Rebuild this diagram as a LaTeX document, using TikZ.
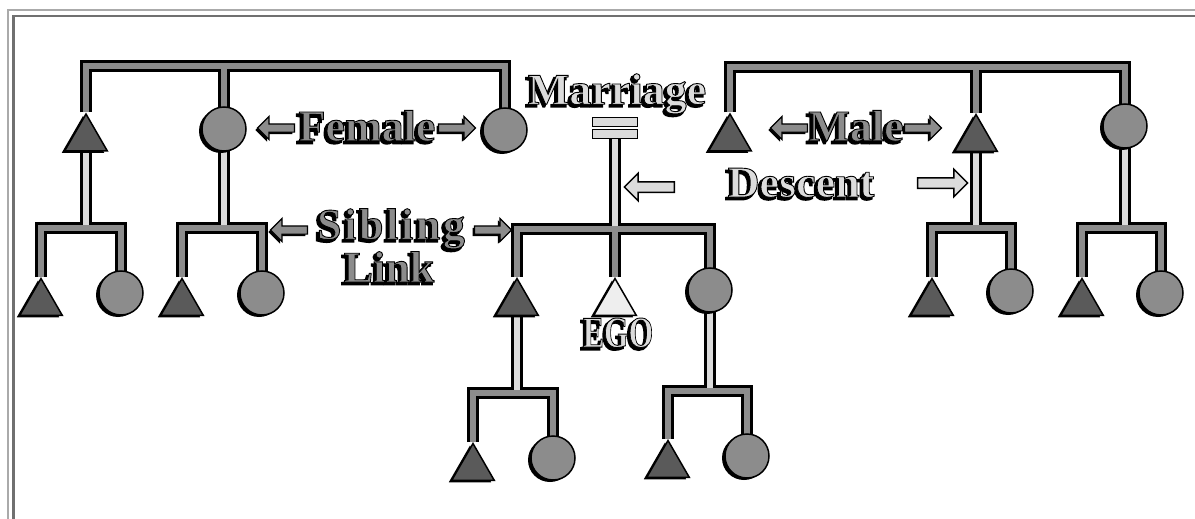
\documentclass[tikz,border=0pt]{standalone}
\usepackage{fontspec}
\setmainfont{Liberation Serif}
\usetikzlibrary{shapes.geometric,shapes.arrows,shadows}
\definecolor{kgmid}{HTML}{8C8C8C}
\definecolor{kgdark}{HTML}{5A5A5A}
\definecolor{kglight}{HTML}{DCDCDC}
\definecolor{kgegofill}{HTML}{EEEEEE}
\definecolor{kgframeA}{HTML}{AAAAAA}
\definecolor{kgframeB}{HTML}{707070}
\pgfdeclarelayer{tout}
\pgfdeclarelayer{tfill}
\pgfsetlayers{tout,tfill,main}
\newcommand\kgtext[2]{%
  \leavevmode
  \rlap{\kern-2.4pt\raisebox{-2.4pt}{\color{black}\special{pdf:literal direct 2 Tr 2 w}#2\special{pdf:literal direct 0 Tr}}}%
  {\color{#1}\special{pdf:literal direct 2 Tr 0.9 w 0 0 0 RG}#2\special{pdf:literal direct 0 Tr}}}
\newcommand\kgtube[2]{%
  \begin{pgfonlayer}{tout}\draw[tubeout] #2;\end{pgfonlayer}%
  \begin{pgfonlayer}{tfill}\draw[#1] #2;\end{pgfonlayer}}
\begin{document}
\begin{tikzpicture}[x=1pt,y=-1pt,
  shshape/.style={drop shadow={shadow xshift=-3pt,shadow yshift=-2pt,fill=black,opacity=1}},
  male/.style={regular polygon,regular polygon sides=3,minimum size=49pt,inner sep=0pt,
    draw=black,line width=1.5pt,fill=kgdark,shshape},
  female/.style={circle,minimum size=44pt,inner sep=0pt,draw=black,line width=1.5pt,
    fill=kgmid,shshape},
  ego/.style={male,fill=kgegofill},
  eqbar/.style={rectangle,minimum width=45pt,minimum height=9pt,inner sep=0pt,
    draw=black,line width=1.5pt,fill=kglight},
  tubeout/.style={line width=12pt,draw=black,line cap=butt,line join=miter},
  tubemid/.style={line width=6.5pt,draw=kgmid,line cap=butt,line join=miter},
  tubelight/.style={line width=6.5pt,draw=kglight,line cap=butt,line join=miter},
  lbl/.style={inner sep=0pt,font=\bfseries\fontsize{44}{48}\selectfont},
  larrow/.style={single arrow,draw=black,line width=1.2pt,fill=kgmid,minimum height=37pt,
    inner sep=3.5pt,single arrow head extend=7.5pt,
    drop shadow={shadow xshift=-2pt,shadow yshift=-2pt,fill=black,opacity=1}},
  dearrow/.style={single arrow,draw=black,line width=1.5pt,fill=kglight,minimum height=50pt,
    inner sep=4.5pt,single arrow head extend=8.5pt},
  pointleft/.style={shape border rotate=180}]
\useasboundingbox (0,0) rectangle (1195,519);
% frame
\draw[kgframeA,line width=2.5pt] (8,519) -- (8,10) -- (1195,10);
\draw[kgframeB,line width=2.5pt] (13.5,519) -- (13.5,16) -- (1195,16);
% generation 1
\node[male] (T1) at (86,138.5) {};
\node[female] (C1) at (224,129) {};
\node[female] (C2) at (505,130) {};
\node[male] (T2) at (730,138.5) {};
\node[male] (T3) at (976,139) {};
\node[female] (C3) at (1125,126) {};
% marriage sign
\node[eqbar] (E1) at (615,122) {};
\node[eqbar] (E2) at (615,134) {};
% generation 2
\node[male] (T5) at (41,303) {};
\node[female] (C4) at (121,293) {};
\node[male] (T6) at (182,303) {};
\node[female] (C5) at (262,293) {};
\node[male] (T4) at (517,303) {};
\node[ego] (EGO) at (615,303) {};
\node[female] (C6) at (710,290) {};
\node[male] (T7) at (932,303) {};
\node[female] (C7) at (1011,291) {};
\node[male] (T8) at (1082,303) {};
\node[female] (C8) at (1161,293) {};
% generation 3
\node[male] (T9) at (473,468) {};
\node[female] (C9) at (553,458) {};
\node[male] (T10) at (668,465) {};
\node[female] (C10) at (747,456) {};
% bar levels
\coordinate (yTop) at (0,66);
\coordinate (yTopR) at (0,67);
\coordinate (yA) at (0,228);
\coordinate (yMid) at (0,229);
\coordinate (yD) at (0,228);
\coordinate (yF) at (0,393);
\coordinate (yG) at (0,391);
% descent lines
\kgtube{tubelight}{(T1.south) -- (T1.south |- yA)}
\kgtube{tubelight}{(C1.center) -- (C1.center |- yA)}
\kgtube{tubelight}{(E2.center) -- (E2.center |- yMid)}
\kgtube{tubelight}{(T4.south) -- (T4.south |- yF)}
\kgtube{tubelight}{(C6.center) -- (C6.center |- yG)}
\kgtube{tubelight}{(T3.south) -- (T3.south |- yD)}
\kgtube{tubelight}{(C3.center) -- (C3.center |- yD)}
% sibling links
\kgtube{tubemid}{(T1.north) -- (T1.north |- yTop) -- (C2.center |- yTop) -- (C2.center)}
\kgtube{tubemid}{(C1.center) -- (C1.center |- yTop)}
\kgtube{tubemid}{(T2.north) -- (T2.north |- yTopR) -- (C3.center |- yTopR) -- (C3.center)}
\kgtube{tubemid}{(T3.north) -- (T3.north |- yTopR)}
\kgtube{tubemid}{(T5.north) -- (T5.north |- yA) -- (C4.center |- yA) -- (C4.center)}
\kgtube{tubemid}{(T6.north) -- (T6.north |- yA) -- (C5.center |- yA) -- (C5.center)}
\kgtube{tubemid}{(T4.north) -- (T4.north |- yMid) -- (C6.center |- yMid) -- (C6.center)}
\kgtube{tubemid}{(EGO.north) -- (EGO.north |- yMid)}
\kgtube{tubemid}{(T7.north) -- (T7.north |- yD) -- (C7.center |- yD) -- (C7.center)}
\kgtube{tubemid}{(T8.north) -- (T8.north |- yD) -- (C8.center |- yD) -- (C8.center)}
\kgtube{tubemid}{(T9.north) -- (T9.north |- yF) -- (C9.center |- yF) -- (C9.center)}
\kgtube{tubemid}{(T10.north) -- (T10.north |- yG) -- (C10.center |- yG) -- (C10.center)}
% labels
\node[lbl] (Lmar) at (617,95) {\kgtext{kglight}{Marriage}};
\node[lbl] (Lfem) at (367,127) {\kgtext{kgmid}{Female}};
\node[larrow,pointleft] (AfemL) at (278,128) {};
\node[larrow] (AfemR) at (455,128) {};
\node[lbl] (Lmale) at (856,127) {\kgtext{kgmid}{Male}};
\node[larrow,pointleft] (AmaleL) at (791,128) {};
\node[larrow] (AmaleR) at (921,128) {};
\node[lbl] (Lsib) at (391,230) {\kgtext{kgmid}{\addfontfeature{LetterSpace=6}Sibling}};
\node[lbl] (Llink) at (389,268) {\kgtext{kgmid}{Link}};
\node[larrow,pointleft] (AsibL) at (291,230) {};
\node[larrow] (AsibR) at (491,230) {};
\node[lbl] (Ldes) at (801,184) {\kgtext{kglight}{Descent}};
\node[dearrow,pointleft] (AdesL) at (652,187) {};
\node[dearrow] (AdesR) at (940,183) {};
\node[lbl] (Lego) at (618,334) {\kgtext{kglight}{\scalebox{0.72}[1]{EGO}}};
\end{tikzpicture}
\end{document}
